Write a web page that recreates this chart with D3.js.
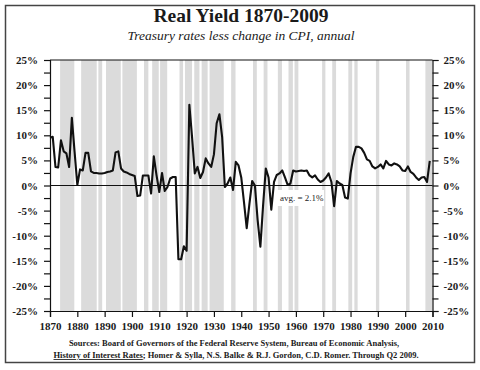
<!DOCTYPE html>
<html>
<head>
<meta charset="utf-8">
<script src="https://cdnjs.cloudflare.com/ajax/libs/d3/7.8.5/d3.min.js"></script>
<style>
    body { margin: 0; background: #fff; }
    svg text { font-family: "Liberation Serif", "Times New Roman", serif; fill: #1a1a1a; }
    .axis path, .axis line { stroke: #111; stroke-width: 1.2px; }
    .axis text { font-weight: bold; font-size: 11px; }
</style>
</head>
<body>
<div id="chart"></div>
<script>

// Real yield, annual, %, first value is 1870
var firstYear = 1870;
var realYield = [
    9.5, 9.7, 3.7, 3.6, 9.0, 6.8, 6.4, 3.7, 13.5, 6.7,
    0.1, 3.2, 3.0, 6.5, 6.5, 2.8, 2.5, 2.5, 2.4, 2.4,
    2.5, 2.7, 2.8, 3.0, 6.6, 6.8, 3.4, 2.8, 2.6, 2.3,
    2.1, 1.9, -2.1, -2.0, 2.0, 2.0, 2.0, -1.6, 5.8, 2.0,
    -1.3, 2.5, -1.1, -0.3, 1.4, 1.7, 1.7, -14.7, -14.7, -12.1,
    -13.0, 16.1, 9.6, 2.4, 3.7, 1.5, 2.7, 5.4, 4.4, 3.7,
    6.2, 12.4, 14.2, 9.7, -0.3, 0.4, 1.6, -0.9, 4.7, 4.0,
    1.6, -3.3, -8.5, -3.6, 0.9, 0.0, -6.9, -12.2, -3.9, 3.4,
    1.6, -4.8, 0.7, 2.1, 2.4, 3.0, 1.6, 0.1, 0.4, 3.0,
    2.8, 2.9, 3.0, 2.9, 3.0, 2.0, 1.6, 2.0, 1.2, 0.7,
    1.0, 1.6, 2.4, 0.7, -4.1, 0.9, 0.4, 0.1, -2.4, -2.6,
    2.4, 5.7, 7.7, 7.7, 7.4, 6.5, 5.2, 4.9, 3.8, 3.4,
    3.7, 4.2, 3.4, 4.9, 4.2, 4.0, 4.4, 4.2, 3.8, 3.0,
    2.9, 3.8, 2.7, 2.3, 1.6, 1.1, 1.6, 1.7, 0.7, 4.9
];

// shaded (recession) periods, start / end in years
var recessionStart = [1873.7, 1881.4, 1887.7, 1890.5, 1896.5, 1904.4, 1907.4, 1910.3, 1917.4, 1919.4, 1922.8, 1925.5, 1928.4,
    1936.3, 1944.3, 1948.2, 1953.4, 1957.3, 1959.5, 1969.6, 1973.3, 1979.2, 1981.4, 1989.3, 2000.3, 2007.4];
var recessionEnd = [1878.9, 1887.1, 1889.1, 1895.9, 1901.8, 1906.0, 1909.8, 1912.9, 1918.7, 1922.0, 1924.7, 1927.7, 1933.6,
    1937.9, 1945.7, 1949.6, 1954.9, 1958.9, 1960.9, 1970.8, 1974.7, 1980.6, 1982.6, 1990.5, 2001.6, 2009.9];

var yTickValues = [-25, -22.5, -20, -17.5, -15, -12.5, -10, -7.5, -5, -2.5, 0, 2.5, 5, 7.5, 10, 12.5, 15, 17.5, 20, 22.5, 25];
var xTickYears = [1870, 1880, 1890, 1900, 1910, 1920, 1930, 1940, 1950, 1960, 1970, 1980, 1990, 2000, 2010];

var avgLabel = "avg. = 2.1%";

var data = realYield.map(function(v, i) { return { year: firstYear + i, value: v }; });
var bands = recessionStart.map(function(s, i) { return { start: s, end: recessionEnd[i] }; });

var width = 480, height = 370;

var svg = d3.select("#chart").append("svg")
    .attr("width", width)
    .attr("height", height);

// outer frame
svg.append("rect")
    .attr("x", 5.5).attr("y", 5.5)
    .attr("width", 469).attr("height", 357)
    .attr("fill", "none")
    .attr("stroke", "#444")
    .attr("stroke-width", 1.5);

// titles
svg.append("text")
    .attr("x", 241).attr("y", 22)
    .attr("text-anchor", "middle")
    .attr("font-weight", "bold")
    .attr("font-size", "19.5px")
    .text("Real Yield 1870-2009");

svg.append("text")
    .attr("x", 241).attr("y", 40)
    .attr("text-anchor", "middle")
    .attr("font-style", "italic")
    .attr("font-size", "13.5px")
    .text("Treasury rates less change in CPI, annual");

// Scales and axes
var x = d3.scaleLinear()
    .domain([1870, 2010])
    .range([50, 432.5]);

var y = d3.scaleLinear()
    .domain([-25, 25])
    .range([311, 60]);

// recession shading
svg.selectAll("rect.band")
    .data(bands)
    .enter()
    .append("rect")
    .attr("class", "band")
    .attr("x", function(d) { return x(d.start); })
    .attr("width", function(d) { return x(d.end) - x(d.start); })
    .attr("y", y(25))
    .attr("height", y(-25) - y(25))
    .attr("fill", "#dbdbdb");

// top frame line + zero line
svg.append("line")
    .attr("x1", x(1870)).attr("x2", x(2010))
    .attr("y1", y(25)).attr("y2", y(25))
    .attr("stroke", "#111").attr("stroke-width", 1.2);

svg.append("line")
    .attr("x1", x(1870)).attr("x2", x(2010))
    .attr("y1", y(0)).attr("y2", y(0))
    .attr("stroke", "#111").attr("stroke-width", 1);

var pctFormat = function(d) { return d % 5 === 0 ? d + "%" : ""; };

var yAxisLeft = d3.axisLeft(y)
    .tickValues(yTickValues)
    .tickSize(6)
    .tickPadding(6)
    .tickFormat(pctFormat);

var yAxisRight = d3.axisRight(y)
    .tickValues(yTickValues)
    .tickSize(6)
    .tickPadding(5)
    .tickFormat(pctFormat);

var xAxis = d3.axisBottom(x)
    .tickValues(xTickYears)
    .tickSize(6)
    .tickPadding(5)
    .tickFormat(d3.format("d"));

svg.append("g")
    .attr("class", "axis")
    .attr("transform", "translate(" + x(1870) + ",0)")
    .call(yAxisLeft);

svg.append("g")
    .attr("class", "axis")
    .attr("transform", "translate(" + x(2010) + ",0)")
    .call(yAxisRight);

svg.append("g")
    .attr("class", "axis x-axis")
    .attr("transform", "translate(0," + y(-25) + ")")
    .call(xAxis);

// the line
var line = d3.line()
    .x(function(d) { return x(d.year); })
    .y(function(d) { return y(d.value); });

svg.append("path")
    .datum(data)
    .attr("d", line)
    .attr("fill", "none")
    .attr("stroke", "#111")
    .attr("stroke-width", 2.1)
    .attr("stroke-linejoin", "round");

// average label
svg.append("rect")
    .attr("x", 277).attr("y", 190)
    .attr("width", 47).attr("height", 16)
    .attr("fill", "#fff");

svg.append("text")
    .attr("x", 280).attr("y", 200.5)
    .attr("font-size", "9px")
    .text(avgLabel);

// sources
svg.append("text")
    .attr("x", 234).attr("y", 346)
    .attr("text-anchor", "middle")
    .attr("font-weight", "bold")
    .attr("font-size", "8.5px")
    .text("Sources: Board of Governors of the Federal Reserve System, Bureau of Economic Analysis,");

var src2 = svg.append("text")
    .attr("x", 236).attr("y", 358)
    .attr("text-anchor", "middle")
    .attr("font-weight", "bold")
    .attr("font-size", "8.5px");

src2.append("tspan")
    .attr("text-decoration", "underline")
    .text("History of Interest Rates");
src2.append("tspan")
    .text("; Homer & Sylla, N.S. Balke & R.J. Gordon, C.D. Romer. Through Q2 2009.");

</script>
</body>
</html>
